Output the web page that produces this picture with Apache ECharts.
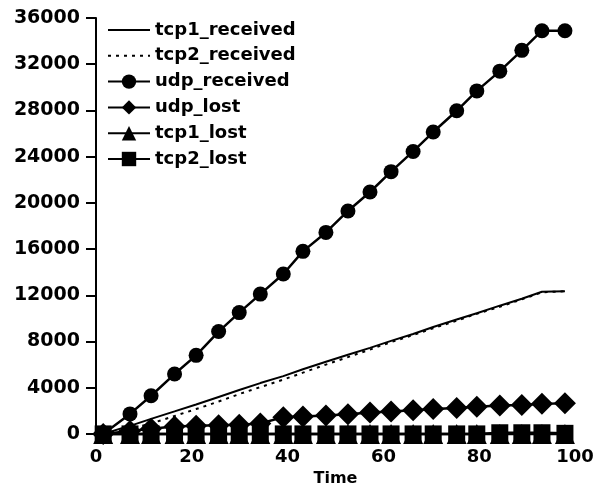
<!DOCTYPE html>
<html>
<head>
<meta charset="utf-8">
<script src="https://cdn.jsdelivr.net/npm/echarts@6/dist/echarts.min.js"></script>
<style>
html,body{margin:0;padding:0;background:#fff;}
#chart{width:609px;height:492px;}
</style>
</head>
<body>
<div id="chart"></div>
<script>
var time = [1.5, 7.1, 11.5, 16.4, 20.9, 25.6, 29.9, 34.3, 39.1, 43.2, 48.0, 52.6, 57.2, 61.6, 66.2, 70.4, 75.3, 79.5, 84.3, 88.9, 93.1, 97.9];
var tcp1Received = [0, 700, 1300, 1950, 2550, 3200, 3800, 4400, 5000, 5600, 6250, 6850, 7450, 8050, 8650, 9250, 9900, 10450, 11100, 11700, 12300, 12350];
var tcp2Received = [0, 450, 900, 1550, 2150, 2800, 3450, 4050, 4700, 5300, 6000, 6650, 7300, 7950, 8550, 9150, 9800, 10400, 11000, 11650, 12250, 12350];
var udpReceived = [0, 1730, 3300, 5180, 6800, 8860, 10500, 12100, 13840, 15800, 17440, 19300, 20940, 22700, 24450, 26130, 27970, 29690, 31400, 33200, 34900, 34900];
var udpLost = [0, 250, 450, 650, 700, 750, 800, 900, 1450, 1500, 1600, 1700, 1850, 1950, 2050, 2150, 2250, 2350, 2450, 2500, 2600, 2650];
var tcp1Lost = [0, 0, 0, 0, 0, 0, 0, 0, 0, 0, 0, 0, 0, 0, 0, 0, 0, 0, 0, 0, 0, 0];
var tcp2Lost = [0, 0, 0, 0, 0, 0, 0, 0, 0, 0, 0, 0, 0, 0, 0, 0, 0, 0, 100, 100, 100, 50];
var yTicks = [0, 4000, 8000, 12000, 16000, 20000, 24000, 28000, 32000, 36000];
var seriesNames = ['tcp1_received', 'tcp2_received', 'udp_received', 'udp_lost', 'tcp1_lost', 'tcp2_lost'];

function pairs(ys){ return time.map(function(t,i){ return [t, ys[i]]; }); }

var FONT = 'DejaVu Sans';
var chart = echarts.init(document.getElementById('chart'), null, {renderer:'canvas'});
var black = '#000';
function mk(name, data, symbol, size, width, dash){
  return {
    name: name, type: 'line', data: pairs(data),
    symbol: symbol, symbolSize: size, showSymbol: symbol !== 'none',
    lineStyle: {color: black, width: width, type: dash || 'solid'},
    itemStyle: {color: black, borderWidth: 0},
    animation: false, z: 2
  };
}
var legendData = seriesNames.map(function(n, i){
  if (i < 2) return {name: n, itemStyle: {color: 'rgba(0,0,0,0)', borderWidth: 0}};
  return {name: n};
});
chart.setOption({
  backgroundColor: '#fff',
  animation: false,
  grid: {left: 96, right: 34, top: 18, bottom: 45, containLabel: false},
  legend: {
    orient: 'vertical', left: 102, top: 16,
    itemWidth: 42, itemHeight: 18, itemGap: 7.8,
    textStyle: {fontFamily: FONT, fontWeight: 'bold', fontSize: 18, color: black},
    data: legendData
  },
  xAxis: {
    type: 'value', min: 0, max: 100, interval: 20,
    name: 'Time', nameLocation: 'middle', nameGap: 29,
    nameTextStyle: {fontFamily: FONT, fontWeight: 'bold', fontSize: 16, color: black},
    axisLine: {show: false}, axisTick: {show: false}, splitLine: {show: false},
    axisLabel: {fontFamily: FONT, fontWeight: 'bold', fontSize: 18, color: black, margin: 6}
  },
  yAxis: {
    type: 'value', min: -700, max: 36000,
    axisLine: {show: true, onZero: false, lineStyle: {color: black, width: 2}},
    axisTick: {show: true, length: 10, lineStyle: {color: black, width: 2}, customValues: yTicks},
    axisLabel: {fontFamily: FONT, fontWeight: 'bold', fontSize: 19, color: black, margin: 16,
      customValues: yTicks, formatter: function(v){ return String(v); }},
    splitLine: {show: false}
  },
  series: [
    mk('tcp1_received', tcp1Received, 'none', 0, 2),
    mk('tcp2_received', tcp2Received, 'none', 0, 2, [3, 5]),
    mk('udp_received', udpReceived, 'circle', 15, 2.5),
    mk('udp_lost', udpLost, 'diamond', 22, 2.5),
    mk('tcp1_lost', tcp1Lost, 'triangle', 20, 2.5),
    mk('tcp2_lost', tcp2Lost, 'rect', 17, 2.5)
  ]
});
</script>
</body>
</html>
